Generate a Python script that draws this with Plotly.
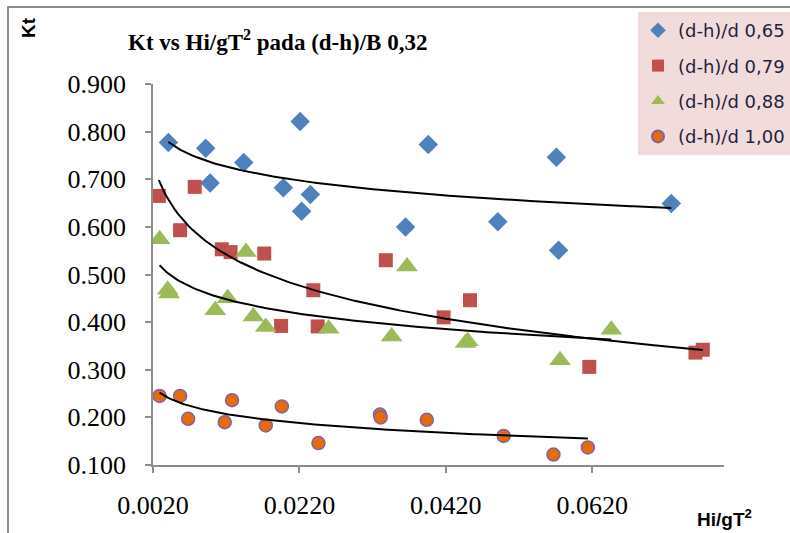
import numpy as np
import plotly.graph_objects as go

# ---- data ----
x_065 = [0.0041, 0.0092, 0.0098, 0.0144, 0.0221, 0.0198, 0.0235, 0.0223, 0.0365, 0.0396, 0.0491, 0.0571, 0.0574, 0.0728]
y_065 = [0.777, 0.765, 0.692, 0.735, 0.821, 0.682, 0.668, 0.633, 0.600, 0.773, 0.611, 0.746, 0.551, 0.649]

x_079 = [0.0028, 0.0057, 0.0077, 0.0114, 0.0126, 0.0172, 0.0195, 0.0239, 0.0245, 0.0338, 0.0417, 0.0453, 0.0616, 0.0761, 0.0771]
y_079 = [0.665, 0.593, 0.684, 0.553, 0.547, 0.544, 0.392, 0.467, 0.391, 0.530, 0.410, 0.446, 0.306, 0.336, 0.342]

x_088 = [0.0029, 0.0040, 0.0042, 0.0105, 0.0122, 0.0147, 0.0157, 0.0174, 0.0260, 0.0346, 0.0367, 0.0447, 0.0450, 0.0576, 0.0646]
y_088 = [0.574, 0.468, 0.460, 0.425, 0.450, 0.547, 0.412, 0.390, 0.386, 0.370, 0.517, 0.356, 0.360, 0.320, 0.384]

x_100 = [0.0029, 0.0057, 0.0068, 0.0118, 0.0128, 0.0174, 0.0196, 0.0246, 0.0330, 0.0331, 0.0394, 0.0499, 0.0567, 0.0614]
y_100 = [0.245, 0.245, 0.197, 0.190, 0.236, 0.183, 0.223, 0.146, 0.206, 0.200, 0.195, 0.161, 0.122, 0.137]

names = ["(d-h)/d 0,65", "(d-h)/d 0,79", "(d-h)/d 0,88", "(d-h)/d 1,00"]
x_ticks = [0.002, 0.022, 0.042, 0.062]
y_ticks = [0.1, 0.2, 0.3, 0.4, 0.5, 0.6, 0.7, 0.8, 0.9]

series = [(x_065, y_065), (x_079, y_079), (x_088, y_088), (x_100, y_100)]
markers = [
    dict(symbol="diamond", size=15, color="#4F81BD"),
    dict(symbol="square", size=14, color="#C0504D"),
    dict(symbol="triangle-up", size=19, color="#9BBB59"),
    dict(symbol="circle", size=13, color="#E46C0A", line=dict(color="#8064A2", width=1.5)),
]

fig = go.Figure()

for (xs, ys), nm, mk in zip(series, names, markers):
    fig.add_trace(go.Scatter(x=xs, y=ys, mode="markers", name=nm, marker=mk,
                             legendgroup=nm))

# trendlines (logarithmic least-squares fit, like Excel)
for xs, ys in series:
    xa = np.array(xs)
    ya = np.array(ys)
    a, b = np.polyfit(np.log(xa), ya, 1)
    xl = np.linspace(xa.min(), xa.max(), 200)
    fig.add_trace(go.Scatter(x=xl, y=a * np.log(xl) + b, mode="lines",
                             line=dict(color="black", width=2),
                             showlegend=False, hoverinfo="skip"))

axis_col = "#8C8C8C"
L, R, T, B = 153, 66, 84, 68
W, H = 790, 533
pw = W - L - R
ph = H - T - B

def px(xp):
    return (xp - L) / pw

def py(yp):
    return (H - B - yp) / ph

fig.update_layout(
    width=W, height=H,
    margin=dict(l=L, r=R, t=T, b=B, autoexpand=False),
    paper_bgcolor="white", plot_bgcolor="white",
    showlegend=True,
    legend=dict(
        xref="container", yref="container",
        x=1.0, xanchor="right", y=1 - 12 / H, yanchor="top",
        bgcolor="#F2DCDB", borderwidth=0,
        font=dict(family="DejaVu Sans", size=18, color="#1F1F3F"),
        traceorder="grouped", tracegroupgap=9,
        itemsizing="constant",
    ),
    xaxis=dict(
        range=[0.002, 0.080], tickvals=x_ticks, tickformat=".4f",
        showgrid=False, zeroline=False,
        showline=True, linecolor=axis_col, linewidth=1.5,
        ticks="outside", ticklen=6, tickcolor=axis_col, tickwidth=1.5,
        tickfont=dict(family="Liberation Serif", size=26, color="black"),
        ticklabelstandoff=10,
    ),
    yaxis=dict(
        range=[0.1, 0.9], tickvals=y_ticks, tickformat=".3f",
        showgrid=False, zeroline=False,
        showline=True, linecolor=axis_col, linewidth=1.5,
        ticks="outside", ticklen=6, tickcolor=axis_col, tickwidth=1.5,
        tickfont=dict(family="Liberation Serif", size=26, color="black"),
        ticklabelstandoff=14,
    ),
    annotations=[
        dict(text="<b>Kt vs Hi/gT<sup>2</sup> pada (d-h)/B 0,32</b>", xref="paper", yref="paper",
             x=px(277), y=py(40), showarrow=False, xanchor="center", yanchor="middle",
             font=dict(family="Liberation Serif", size=23, color="black")),
        dict(text="<b>Kt</b>", xref="paper", yref="paper", x=px(29), y=py(28),
             showarrow=False, textangle=-90, xanchor="center", yanchor="middle",
             font=dict(family="Liberation Sans", size=19, color="black")),
        dict(text="<b>Hi/gT<sup>2</sup></b>", xref="paper", yref="paper", x=px(724), y=py(518),
             showarrow=False, xanchor="center", yanchor="middle",
             font=dict(family="Liberation Sans", size=19, color="black")),
    ],
    shapes=[
        dict(type="rect", xref="paper", yref="paper",
             x0=px(8), x1=px(840), y0=py(560), y1=py(7),
             line=dict(color="#8C8C8C", width=2), fillcolor="rgba(0,0,0,0)", layer="below"),
    ],
)

fig.write_html("out.html")
